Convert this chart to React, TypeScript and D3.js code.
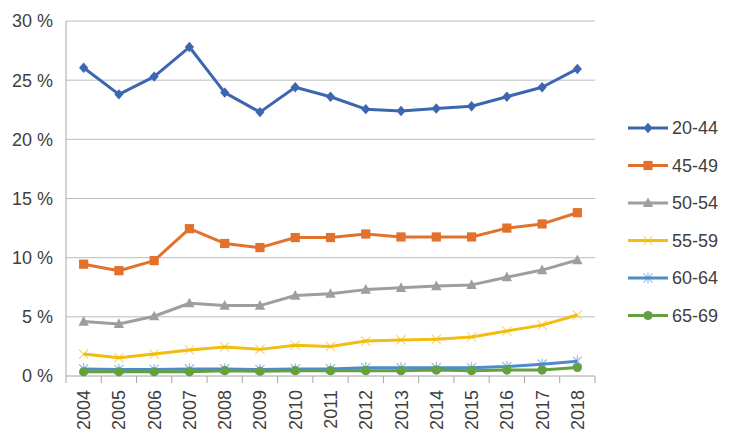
import React from 'react';
import * as d3 from 'd3';

// Share of population by age group, 2004–2018 (values in %)
const YEARS = ['2004', '2005', '2006', '2007', '2008', '2009', '2010', '2011', '2012', '2013', '2014', '2015', '2016', '2017', '2018'];

const AGE_20_44 = [26.05, 23.8, 25.3, 27.8, 23.95, 22.3, 24.4, 23.6, 22.55, 22.4, 22.6, 22.8, 23.6, 24.4, 25.95];
const AGE_45_49 = [9.45, 8.9, 9.75, 12.45, 11.2, 10.85, 11.7, 11.7, 12.0, 11.75, 11.75, 11.75, 12.5, 12.85, 13.8];
const AGE_50_54 = [4.6, 4.4, 5.05, 6.15, 5.95, 5.95, 6.8, 6.95, 7.3, 7.45, 7.6, 7.7, 8.35, 8.95, 9.8];
const AGE_55_59 = [1.85, 1.55, 1.85, 2.2, 2.45, 2.25, 2.6, 2.5, 2.95, 3.05, 3.1, 3.3, 3.8, 4.3, 5.15];
const AGE_60_64 = [0.6, 0.55, 0.55, 0.6, 0.6, 0.55, 0.6, 0.6, 0.7, 0.7, 0.7, 0.7, 0.8, 1.0, 1.25];
const AGE_65_69 = [0.35, 0.35, 0.35, 0.35, 0.45, 0.4, 0.45, 0.45, 0.45, 0.45, 0.5, 0.45, 0.5, 0.5, 0.72];

const Y_TICKS = [0, 5, 10, 15, 20, 25, 30];

type Marker = 'diamond' | 'square' | 'triangle' | 'x' | 'star' | 'circle';

const SERIES: { name: string; values: number[]; color: string; marker: Marker }[] = [
  { name: '20-44', values: AGE_20_44, color: '#3D66B0', marker: 'diamond' },
  { name: '45-49', values: AGE_45_49, color: '#E2712C', marker: 'square' },
  { name: '50-54', values: AGE_50_54, color: '#9E9E9E', marker: 'triangle' },
  { name: '55-59', values: AGE_55_59, color: '#F2BC10', marker: 'x' },
  { name: '60-64', values: AGE_60_64, color: '#4E8BCB', marker: 'star' },
  { name: '65-69', values: AGE_65_69, color: '#65A040', marker: 'circle' },
];

const W = 740;
const H = 443;
const M = { left: 66, right: 595, top: 21, bottom: 376 };
const FONT = '"Liberation Sans", Arial, sans-serif';
const TEXT = '#404040';

function MarkerGlyph({ type, x, y, color }: { type: Marker; x: number; y: number; color: string }) {
  const s = 4.6;
  switch (type) {
    case 'diamond':
      return <path d={`M${x},${y - s - 0.6}L${x + s},${y}L${x},${y + s + 0.6}L${x - s},${y}Z`} fill={color} />;
    case 'square':
      return <rect x={x - s} y={y - s} width={s * 2} height={s * 2} fill={color} />;
    case 'triangle':
      return <path d={`M${x},${y - s - 1}L${x + s + 0.6},${y + s - 0.5}L${x - s - 0.6},${y + s - 0.5}Z`} fill={color} />;
    case 'x':
      return (
        <path d={`M${x - s},${y - s}L${x + s},${y + s}M${x + s},${y - s}L${x - s},${y + s}`}
          stroke={color} strokeOpacity={0.55} strokeWidth={1.3} fill="none" />
      );
    case 'star':
      return (
        <path d={`M${x - s},${y - s}L${x + s},${y + s}M${x + s},${y - s}L${x - s},${y + s}M${x},${y - s - 1}L${x},${y + s + 1}`}
          stroke={color} strokeOpacity={0.55} strokeWidth={1.3} fill="none" />
      );
    case 'circle':
    default:
      return <circle cx={x} cy={y} r={s} fill={color} />;
  }
}

export default function App() {
  const x = d3.scaleBand<string>().domain(YEARS).range([M.left, M.right]);
  const y = d3.scaleLinear().domain([0, 30]).range([M.bottom, M.top]);
  const cx = (yr: string) => (x(yr) ?? 0) + x.bandwidth() / 2;

  const line = d3.line<number>()
    .x((_, i) => cx(YEARS[i]))
    .y(d => y(d));

  const boundaries = [...YEARS.map(yr => x(yr) ?? 0), M.right];

  return (
    <svg width={W} height={H} style={{ position: 'absolute', left: 0, top: 0, background: '#fff' }} fontFamily={FONT}>
      {/* gridlines + y labels */}
      {Y_TICKS.map(t => (
        <g key={t}>
          {t > 0 && <line x1={M.left} x2={M.right} y1={y(t)} y2={y(t)} stroke="#BDBDBD" strokeWidth={1} />}
          <text x={53} y={y(t)} dy="0.36em" textAnchor="end" fontSize={18} fill={TEXT}>{`${t} %`}</text>
        </g>
      ))}
      {/* axes */}
      <line x1={M.left} x2={M.left} y1={M.top} y2={M.bottom} stroke="#A6A6A6" strokeWidth={1} />
      <line x1={M.left} x2={M.right} y1={M.bottom} y2={M.bottom} stroke="#A6A6A6" strokeWidth={1} />
      {boundaries.map((b, i) => (
        <line key={i} x1={b} x2={b} y1={M.bottom} y2={M.bottom + 7} stroke="#A6A6A6" strokeWidth={1} />
      ))}
      {YEARS.map(yr => (
        <text key={yr} transform={`translate(${cx(yr)},${M.bottom + 14}) rotate(-90)`}
          textAnchor="end" dy="0.36em" fontSize={18} fill={TEXT}>{yr}</text>
      ))}
      {/* series */}
      {SERIES.map(s => (
        <g key={s.name}>
          <path d={line(s.values) ?? ''} fill="none" stroke={s.color} strokeWidth={3} strokeLinejoin="round" />
          {s.values.map((v, i) => (
            <MarkerGlyph key={i} type={s.marker} x={cx(YEARS[i])} y={y(v)} color={s.color} />
          ))}
        </g>
      ))}
      {/* legend */}
      {SERIES.map((s, i) => {
        const ly = 128 + i * 37.5;
        return (
          <g key={s.name}>
            <line x1={628} x2={668} y1={ly} y2={ly} stroke={s.color} strokeWidth={3} />
            <MarkerGlyph type={s.marker} x={648} y={ly} color={s.color} />
            <text x={672} y={ly} dy="0.36em" fontSize={18} fill={TEXT}>{s.name}</text>
          </g>
        );
      })}
    </svg>
  );
}
